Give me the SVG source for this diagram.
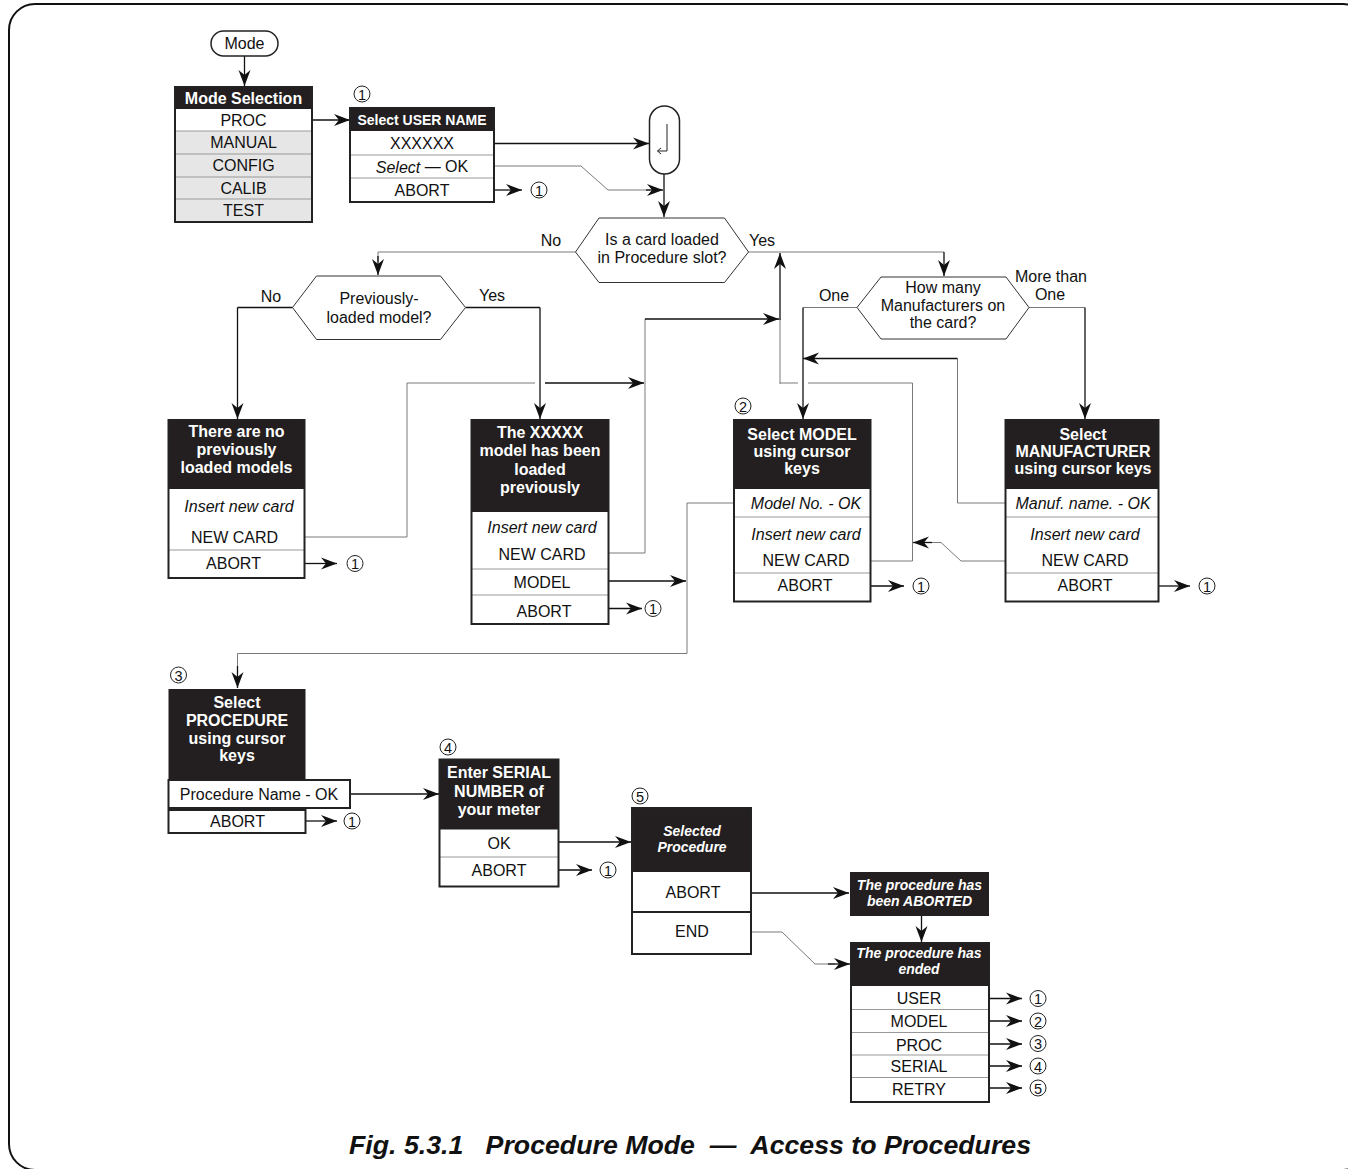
<svg xmlns="http://www.w3.org/2000/svg" width="1348" height="1169" viewBox="0 0 1348 1169">
<defs>
<marker id="ah" markerUnits="userSpaceOnUse" markerWidth="18" markerHeight="13" refX="16" refY="6.5" orient="auto">
<path d="M0,0.5 L16,6.5 L0,12.5 L5,6.5 z" fill="#111"/>
</marker>
</defs>
<style>
text { font-family: "Liberation Sans", Arial, Helvetica, sans-serif; fill:#111; }
.t { font-size:16px; text-anchor:middle; dominant-baseline:central; }
.i { font-style:italic; }
.h { font-size:16px; font-weight:bold; fill:#fff; text-anchor:middle; dominant-baseline:central; }
.hs { font-size:14px; font-weight:bold; fill:#fff; text-anchor:middle; dominant-baseline:central; }
.hi { font-size:14px; font-weight:bold; font-style:italic; fill:#fff; text-anchor:middle; dominant-baseline:central; }
.bg { fill:#fff; }
.bd { fill:none; stroke:#222; stroke-width:2; }
.hdr { fill:#231f20; }
.dv { stroke:#999; stroke-width:1; }
.dk { stroke:#222; stroke-width:2; }
.ln { fill:none; stroke:#111; stroke-width:1.3; }
.gl { fill:none; stroke:#7a7a7a; stroke-width:1; }
.arr { marker-end:url(#ah); }
.dec { fill:#fff; stroke:#333; stroke-width:1; }
.cn circle { fill:#fff; stroke:#222; stroke-width:1; }
.cn text { font-size:14.5px; text-anchor:middle; dominant-baseline:central; }
.cap { font-size:26px; font-weight:bold; font-style:italic; text-anchor:middle; }
</style>

<rect x="9" y="4" width="1360" height="1166" rx="26" fill="none" stroke="#111" stroke-width="2"/>

<g id="connectors">
<path class="ln arr" d="M244.5,55 V86"/>
<path class="ln arr" d="M312,120 H350"/>
<path class="ln arr" d="M494,190 H522"/>
<path class="ln arr" d="M494,143.5 H649"/>
<path class="gl" d="M494,166 H581 L608,190 H650"/>
<path class="ln arr" d="M646,190 H663"/>
<path class="ln arr" d="M664,174 V217"/>
<path class="gl" d="M575.5,252 H378 V262"/>
<path class="ln arr" d="M378,256 V275"/>
<path class="gl" d="M748.5,252 H944"/>
<path class="ln arr" d="M944,252 V276"/>
<path class="ln" d="M292.5,307.5 H237.5"/>
<path class="ln arr" d="M237.5,307.5 V419"/>
<path class="ln" d="M465.5,307.5 H540"/>
<path class="ln arr" d="M540,307.5 V419"/>
<path class="gl" d="M305,537 H407 V383 H535"/>
<path class="ln arr" d="M545,383 H644"/>
<path class="ln arr" d="M305,563.5 H337"/>
<path class="gl" d="M608,553 H645 V319"/>
<path class="ln arr" d="M645,319 H779"/>
<path class="gl" d="M780,384 V319"/>
<path class="ln arr" d="M780,320 V253"/>
<path class="gl" d="M870.5,561 H912.5 V383 H808"/>
<path class="gl" d="M798,383 H780"/>
<path class="ln arr" d="M608,581 H686"/>
<path class="ln arr" d="M608,608.5 H642"/>
<path class="gl" d="M734,503 H687 V653.5 H237.5 V672"/>
<path class="ln arr" d="M237.5,666 V688"/>
<path class="gl" d="M857,307.5 H803"/>
<path class="ln arr" d="M803,307.5 V419"/>
<path class="gl" d="M1029,307.5 H1085"/>
<path class="ln arr" d="M1085,307.5 V419"/>
<path class="gl" d="M1005.5,503 H957.5 V358.5"/>
<path class="ln arr" d="M957.5,358.5 H803"/>
<path class="gl" d="M1005.5,561 H961 L941,542.5 H925"/>
<path class="ln arr" d="M932,542.5 H913"/>
<path class="ln arr" d="M870.5,586 H904"/>
<path class="ln arr" d="M1158.5,586 H1190"/>
<path class="ln arr" d="M350,794 H439"/>
<path class="ln arr" d="M306,821 H337"/>
<path class="ln arr" d="M558.5,842 H631"/>
<path class="ln arr" d="M558.5,870 H592"/>
<path class="ln arr" d="M751,893 H849"/>
<path class="gl" d="M751,932 H782 L815,964 H835"/>
<path class="ln arr" d="M828,964 H850"/>
<path class="ln arr" d="M921.5,916 V942"/>
<path class="ln arr" d="M989,998.5 H1022"/>
<path class="ln arr" d="M989,1021 H1022"/>
<path class="ln arr" d="M989,1044 H1022"/>
<path class="ln arr" d="M989,1066 H1022"/>
<path class="ln arr" d="M989,1088 H1022"/>
</g>

<g id="circled-refs" class="cn">
<g><circle cx="362" cy="94" r="8"/><text x="362" y="94.5">1</text></g>
<g><circle cx="539" cy="190" r="8"/><text x="539" y="190.5">1</text></g>
<g><circle cx="355" cy="563.5" r="8"/><text x="355" y="564">1</text></g>
<g><circle cx="653" cy="608.5" r="8"/><text x="653" y="609">1</text></g>
<g><circle cx="743" cy="406" r="8"/><text x="743" y="406.5">2</text></g>
<g><circle cx="921" cy="586" r="8"/><text x="921" y="586.5">1</text></g>
<g><circle cx="1207" cy="586" r="8"/><text x="1207" y="586.5">1</text></g>
<g><circle cx="178.5" cy="675" r="8"/><text x="178.5" y="675.5">3</text></g>
<g><circle cx="352" cy="821" r="8"/><text x="352" y="821.5">1</text></g>
<g><circle cx="448" cy="747" r="8"/><text x="448" y="747.5">4</text></g>
<g><circle cx="608" cy="870" r="8"/><text x="608" y="870.5">1</text></g>
<g><circle cx="640" cy="796" r="8"/><text x="640" y="796.5">5</text></g>
<g><circle cx="1038" cy="998.5" r="8"/><text x="1038" y="999">1</text></g>
<g><circle cx="1038" cy="1021" r="8"/><text x="1038" y="1021.5">2</text></g>
<g><circle cx="1038" cy="1043.5" r="8"/><text x="1038" y="1044">3</text></g>
<g><circle cx="1038" cy="1066" r="8"/><text x="1038" y="1066.5">4</text></g>
<g><circle cx="1038" cy="1088" r="8"/><text x="1038" y="1088.5">5</text></g>
</g>

<g id="mode">
<rect x="211" y="31" width="67" height="25" rx="12.5" fill="#fff" stroke="#222" stroke-width="1.5"/>
<text class="t" x="244.5" y="43.5">Mode</text>
</g>

<g id="mode-selection">
<rect class="bg" x="175" y="87" width="137" height="135"/>
<rect class="hdr" x="175" y="87" width="137" height="22"/>
<rect x="175" y="131" width="137" height="91" fill="#e6e6e6"/>
<line class="dv" x1="175" y1="131" x2="312" y2="131"/>
<line class="dv" x1="175" y1="154" x2="312" y2="154"/>
<line class="dv" x1="175" y1="177" x2="312" y2="177"/>
<line class="dv" x1="175" y1="199" x2="312" y2="199"/>
<rect class="bd" x="175" y="87" width="137" height="135"/>
<text class="h" x="243.5" y="98.5">Mode Selection</text>
<text class="t" x="243.5" y="120">PROC</text>
<text class="t" x="243.5" y="142.5">MANUAL</text>
<text class="t" x="243.5" y="165.5">CONFIG</text>
<text class="t" x="243.5" y="188">CALIB</text>
<text class="t" x="243.5" y="210.5">TEST</text>
</g>

<g id="select-user-name">
<rect class="bg" x="350" y="108" width="144" height="94"/>
<rect class="hdr" x="350" y="108" width="144" height="23"/>
<line class="dv" x1="350" y1="155" x2="494" y2="155"/>
<line class="dv" x1="350" y1="178" x2="494" y2="178"/>
<rect class="bd" x="350" y="108" width="144" height="94"/>
<text class="hs" x="422" y="119.5">Select USER NAME</text>
<text class="t" x="422" y="143.5">XXXXXX</text>
<text class="t" x="422" y="166.5"><tspan class="i">Select</tspan> — OK</text>
<text class="t" x="422" y="190">ABORT</text>
</g>

<g id="enter-pill">
<rect x="649.5" y="106" width="30" height="68" rx="15" fill="#fff" stroke="#222" stroke-width="1.5"/>
<path d="M667,124 V151 H657.5" fill="none" stroke="#222" stroke-width="1"/>
<path d="M661,148 L657.5,151 L661,154" fill="none" stroke="#222" stroke-width="1"/>
</g>

<g id="card-loaded">
<polygon class="dec" points="575.5,252 599,218 724.5,218 748.5,252 724.5,282.5 599,282.5"/>
<text class="t" x="662" y="239">Is a card loaded</text>
<text class="t" x="662" y="257.5">in Procedure slot?</text>
</g>

<g id="labels">
<text class="t" x="551" y="240">No</text>
<text class="t" x="762" y="240">Yes</text>
<text class="t" x="271" y="296">No</text>
<text class="t" x="492" y="295">Yes</text>
<text class="t" x="834" y="295">One</text>
<text class="t" x="1051" y="276">More than</text>
<text class="t" x="1050" y="294">One</text>
</g>

<g id="previously-loaded">
<polygon class="dec" points="292.5,307.5 316.5,276 440.5,276 465.5,307.5 440.5,339.5 316.5,339.5"/>
<text class="t" x="379" y="298.5">Previously-</text>
<text class="t" x="379" y="317">loaded model?</text>
</g>

<g id="how-many">
<polygon class="dec" points="857,307.5 881,277 1006,277 1029,307.5 1006,339 881,339"/>
<text class="t" x="943" y="287">How many</text>
<text class="t" x="943" y="305">Manufacturers on</text>
<text class="t" x="943" y="322.5">the card?</text>
</g>

<g id="no-models">
<rect class="bg" x="168.5" y="420" width="136" height="158"/>
<rect class="hdr" x="168.5" y="420" width="136" height="69"/>
<line class="dv" x1="168.5" y1="550" x2="304.5" y2="550"/>
<rect class="bd" x="168.5" y="420" width="136" height="158"/>
<text class="h" x="236.5" y="431.5">There are no</text>
<text class="h" x="236.5" y="449.5">previously</text>
<text class="h" x="236.5" y="467.5">loaded models</text>
<text class="t i" x="239" y="506">Insert new card</text>
<text class="t" x="234.5" y="537">NEW CARD</text>
<text class="t" x="233.5" y="563.5">ABORT</text>
</g>

<g id="model-loaded">
<rect class="bg" x="471.5" y="420" width="137" height="204"/>
<rect class="hdr" x="471.5" y="420" width="137" height="92"/>
<line class="dv" x1="471.5" y1="569" x2="608.5" y2="569"/>
<line class="dv" x1="471.5" y1="595" x2="608.5" y2="595"/>
<rect class="bd" x="471.5" y="420" width="137" height="204"/>
<text class="h" x="540" y="432">The XXXXX</text>
<text class="h" x="540" y="450.5">model has been</text>
<text class="h" x="540" y="469">loaded</text>
<text class="h" x="540" y="487">previously</text>
<text class="t i" x="542" y="527">Insert new card</text>
<text class="t" x="542" y="554">NEW CARD</text>
<text class="t" x="542" y="582">MODEL</text>
<text class="t" x="544" y="611">ABORT</text>
</g>

<g id="select-model">
<rect class="bg" x="734" y="420" width="136.5" height="181.5"/>
<rect class="hdr" x="734" y="420" width="136.5" height="69"/>
<line class="dv" x1="734" y1="517" x2="870.5" y2="517"/>
<line class="dv" x1="734" y1="573" x2="870.5" y2="573"/>
<rect class="bd" x="734" y="420" width="136.5" height="181.5"/>
<text class="h" x="802" y="434">Select MODEL</text>
<text class="h" x="802" y="451.5">using cursor</text>
<text class="h" x="802" y="468.5">keys</text>
<text class="t i" x="806" y="503.5">Model No. - OK</text>
<text class="t i" x="806" y="534.5">Insert new card</text>
<text class="t" x="806" y="560.5">NEW CARD</text>
<text class="t" x="805" y="585.5">ABORT</text>
</g>

<g id="select-manufacturer">
<rect class="bg" x="1005.5" y="420" width="153" height="181.5"/>
<rect class="hdr" x="1005.5" y="420" width="153" height="69"/>
<line class="dv" x1="1005.5" y1="517" x2="1158.5" y2="517"/>
<line class="dv" x1="1005.5" y1="573" x2="1158.5" y2="573"/>
<rect class="bd" x="1005.5" y="420" width="153" height="181.5"/>
<text class="h" x="1083" y="434">Select</text>
<text class="h" x="1083" y="451.5">MANUFACTURER</text>
<text class="h" x="1083" y="468.5">using cursor keys</text>
<text class="t i" x="1083" y="503.5">Manuf. name. - OK</text>
<text class="t i" x="1085" y="534.5">Insert new card</text>
<text class="t" x="1085" y="560.5">NEW CARD</text>
<text class="t" x="1085" y="585.5">ABORT</text>
</g>

<g id="select-procedure">
<rect class="hdr" x="168.5" y="689" width="137" height="91"/>
<rect class="bg" x="168.5" y="780" width="181.5" height="28"/>
<rect class="bd" x="168.5" y="780" width="181.5" height="28"/>
<rect class="bg" x="168.5" y="810" width="137" height="23"/>
<rect class="bd" x="168.5" y="810" width="137" height="23"/>
<text class="h" x="237" y="702">Select</text>
<text class="h" x="237" y="720">PROCEDURE</text>
<text class="h" x="237" y="738">using cursor</text>
<text class="h" x="237" y="755.5">keys</text>
<text class="t" x="259" y="794.5">Procedure Name - OK</text>
<text class="t" x="237.5" y="821">ABORT</text>
</g>

<g id="enter-serial">
<rect class="bg" x="439.5" y="759.5" width="119" height="127"/>
<rect class="hdr" x="439.5" y="759.5" width="119" height="70"/>
<line class="dv" x1="439.5" y1="857" x2="558.5" y2="857"/>
<rect class="bd" x="439.5" y="759.5" width="119" height="127"/>
<text class="h" x="499" y="772.5">Enter SERIAL</text>
<text class="h" x="499" y="791">NUMBER of</text>
<text class="h" x="499" y="809">your meter</text>
<text class="t" x="499" y="843">OK</text>
<text class="t" x="499" y="870.5">ABORT</text>
</g>

<g id="selected-procedure">
<rect class="bg" x="632" y="808" width="119" height="146"/>
<rect class="hdr" x="632" y="808" width="119" height="64"/>
<line class="dk" x1="632" y1="912" x2="751" y2="912"/>
<rect class="bd" x="632" y="808" width="119" height="146"/>
<text class="hi" x="692" y="831">Selected</text>
<text class="hi" x="692" y="847">Procedure</text>
<text class="t" x="693" y="892.5">ABORT</text>
<text class="t" x="692" y="931.5">END</text>
</g>

<g id="procedure-aborted">
<rect class="hdr" x="850" y="872" width="139" height="44"/>
<text class="hi" x="919.5" y="885">The procedure has</text>
<text class="hi" x="919.5" y="900.5">been ABORTED</text>
</g>

<g id="procedure-ended">
<rect class="bg" x="851" y="943" width="138" height="159"/>
<rect class="hdr" x="851" y="943" width="138" height="43"/>
<line class="dv" x1="851" y1="1009.5" x2="989" y2="1009.5"/>
<line class="dv" x1="851" y1="1032.5" x2="989" y2="1032.5"/>
<line class="dv" x1="851" y1="1055" x2="989" y2="1055"/>
<line class="dv" x1="851" y1="1077.5" x2="989" y2="1077.5"/>
<rect class="bd" x="851" y="943" width="138" height="159"/>
<text class="hi" x="919" y="952.5">The procedure has</text>
<text class="hi" x="919" y="968.5">ended</text>
<text class="t" x="919" y="998.5">USER</text>
<text class="t" x="919" y="1021.5">MODEL</text>
<text class="t" x="919" y="1045">PROC</text>
<text class="t" x="919" y="1066">SERIAL</text>
<text class="t" x="919" y="1089">RETRY</text>
</g>

<text class="cap" x="690" y="1154" textLength="682" lengthAdjust="spacingAndGlyphs" xml:space="preserve">Fig. 5.3.1   Procedure Mode  —  Access to Procedures</text>
</svg>
